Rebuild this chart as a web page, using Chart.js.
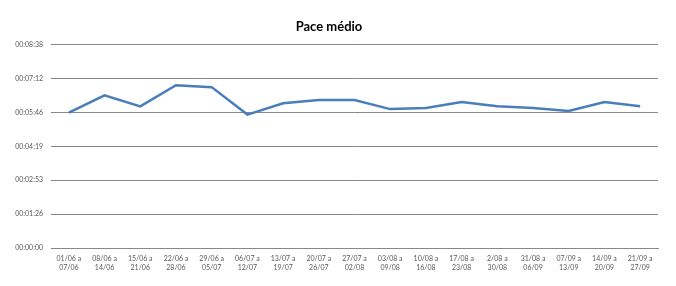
<!DOCTYPE html>
<html><head><meta charset="utf-8">
<script src="https://cdn.jsdelivr.net/npm/chart.js@4/dist/chart.umd.min.js"></script>
<style>html,body{margin:0;padding:0;background:#fff;}#wrap{width:676px;height:286px;}</style>
</head><body><div id="wrap"><canvas id="c" width="676" height="286"></canvas></div>
<script>
const categories = [["01/06 a","07/06"],["08/06 a","14/06"],["15/06 a","21/06"],["22/06 a","28/06"],["29/06 a","05/07"],["06/07 a","12/07"],["13/07 a","19/07"],["20/07 a","26/07"],["27/07 a","02/08"],["03/08 a","09/08"],["10/08 a","16/08"],["17/08 a","23/08"],["2/08 a","30/08"],["31/08 a","06/09"],["07/09 a","13/09"],["14/09 a","20/09"],["21/09 a","27/09"]];
// pace in seconds
const paceSeconds = [345, 389, 361, 415, 410, 340, 369, 377, 377, 354, 357, 372, 361, 357, 349, 372, 361];
const yTickStep = 86.4;
const yMax = 518.4;

function fmt(v){
  const s = Math.round(v);
  const h = Math.floor(s/3600), m = Math.floor((s%3600)/60), sec = s%60;
  const p = n => String(n).padStart(2,'0');
  return p(h)+':'+p(m)+':'+p(sec);
}

new Chart(document.getElementById('c'), {
  type: 'line',
  data: { labels: categories, datasets: [{
    data: paceSeconds, borderColor: '#4a7ebb', borderWidth: 2.5, pointRadius: 0, tension: 0, fill: false
  }]},
  options: {
    responsive: false, animation: false, devicePixelRatio: 1,
    layout: { padding: { left: 0, right: 18, top: 0, bottom: 0 } },
    plugins: {
      legend: { display: false }, tooltip: { enabled: false },
      title: { display: true, text: 'Pace médio', color: '#000', font: { family: 'Lato', size: 13, weight: 'bold' }, padding: { top: 19, bottom: 10 } }
    },
    scales: {
      x: {
        offset: true,
        grid: { display: false, drawTicks: false, offset: true },
        border: { color: '#888', width: 1 },
        ticks: { color: '#595959', font: { family: 'Lato', size: 7 }, maxRotation: 0, autoSkip: false, padding: 7 },
        afterFit: s => { s.height = 38; }
      },
      y: {
        min: 0, max: yMax,
        grid: { color: '#888', lineWidth: 1, drawTicks: false },
        border: { display: false },
        ticks: { stepSize: yTickStep, color: '#595959', font: { family: 'Lato', size: 7 }, padding: 8, callback: v => fmt(v) },
        afterFit: s => { s.width = 51; }
      }
    }
  }
});
</script></body></html>
